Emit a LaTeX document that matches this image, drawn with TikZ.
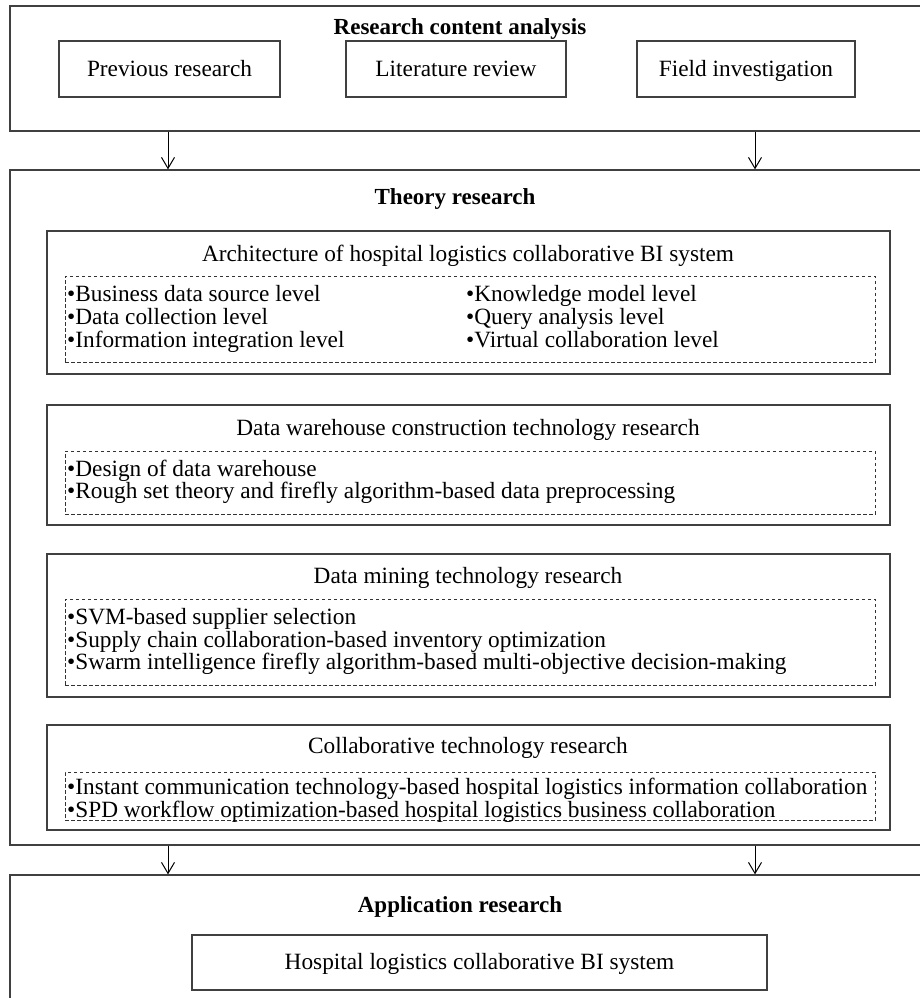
\documentclass[tikz,border=0pt]{standalone}
\usepackage{fontspec}
\setmainfont{Liberation Serif}
\usetikzlibrary{arrows.meta, positioning}

\tikzset{
    every node/.style={font=\fontsize{23.3}{26}\selectfont, inner sep=0pt, text height=19pt, text depth=5pt},
    bigbox/.style={draw=black!75, line width=1.3pt, minimum width=920pt},
    secbox/.style={draw=black!75, line width=1.1pt, minimum width=843pt},
    smallbox/.style={draw=black!75, line width=1.1pt},
    dashbox/.style={draw=black!80, line width=0.8pt, dash pattern=on 3.5pt off 2.5pt, minimum width=810pt},
    headtext/.style={font=\fontsize{23}{26}\selectfont\bfseries},
    itemtext/.style={anchor=west}
}

\begin{document}
\begin{tikzpicture}[x=1pt, y=-1pt, >={Straight Barb[length=11pt, width=13pt]}]
    \useasboundingbox (0,0) rectangle (920,998);
    % research content analysis
    \node[bigbox, minimum height=125pt] (content) at (470,68.5) {};
    \node[headtext] (contenthead) at (460,28) {Research content analysis};
    \node[smallbox, minimum width=221pt, minimum height=56pt] (prev) at (169.5,69) {Previous research};
    \node[smallbox, minimum width=220pt, minimum height=56pt] (lit) at (456,69) {Literature review};
    \node[smallbox, minimum width=218pt, minimum height=56pt] (field) at (746,69) {Field investigation};
    % theory research
    \node[bigbox, minimum height=675pt] (theory) at (470,507.5) {};
    \node[headtext] (theoryhead) at (455,197) {Theory research};
    \draw[->, line width=1pt] (content.south -| 168,0) -- (theory.north -| 168,0);
    \draw[->, line width=1pt] (content.south -| 755,0) -- (theory.north -| 755,0);

    \node[secbox, minimum height=143pt] (arch) at (468.5,302.5) {};
    \node (archhead) at (468,254) {Architecture of hospital logistics collaborative BI system};
    \node[dashbox, minimum height=86pt] (archdash) at (470,319) {};
    \node[itemtext] (a1) at (67,294) {•Business data source level};
    \node[itemtext] (a2) at (67,317) {•Data collection level};
    \node[itemtext] (a3) at (67,340) {•Information integration level};
    \node[itemtext] (a4) at (466,294) {•Knowledge model level};
    \node[itemtext] (a5) at (466,317) {•Query analysis level};
    \node[itemtext] (a6) at (466,340) {•Virtual collaboration level};

    \node[secbox, minimum height=120pt] (dw) at (468.5,465) {};
    \node (dwhead) at (468,428) {Data warehouse construction technology research};
    \node[dashbox, minimum height=63pt] (dwdash) at (470,482.5) {};
    \node[itemtext] (d1) at (67,469) {•Design of data warehouse};
    \node[itemtext] (d2) at (67,491) {•Rough set theory and firefly algorithm-based data preprocessing};

    \node[secbox, minimum height=143pt] (dm) at (468.5,625.5) {};
    \node (dmhead) at (468,576) {Data mining technology research};
    \node[dashbox, minimum height=86pt] (dmdash) at (470,642) {};
    \node[itemtext] (m1) at (67,617) {•SVM-based supplier selection};
    \node[itemtext] (m2) at (67,640) {•Supply chain collaboration-based inventory optimization};
    \node[itemtext] (m3) at (67,662) {•Swarm intelligence firefly algorithm-based multi-objective decision-making};

    \node[secbox, minimum height=105pt] (co) at (468.5,777.5) {};
    \node (cohead) at (468,746) {Collaborative technology research};
    \node[dashbox, minimum height=48pt] (codash) at (470,796) {};
    \node[itemtext] (c1) at (67,787) {•Instant communication technology-based hospital logistics information collaboration};
    \node[itemtext] (c2) at (67,810) {•SPD workflow optimization-based hospital logistics business collaboration};
    % application research
    \node[bigbox, minimum height=135pt] (app) at (470,942.5) {};
    \node[headtext] (apphead) at (460,905) {Application research};
    \node[smallbox, minimum width=575pt, minimum height=55pt] (sys) at (479.5,962.5) {Hospital logistics collaborative BI system};
    \draw[->, line width=1pt] (theory.south -| 168,0) -- (app.north -| 168,0);
    \draw[->, line width=1pt] (theory.south -| 755,0) -- (app.north -| 755,0);
\end{tikzpicture}
\end{document}
